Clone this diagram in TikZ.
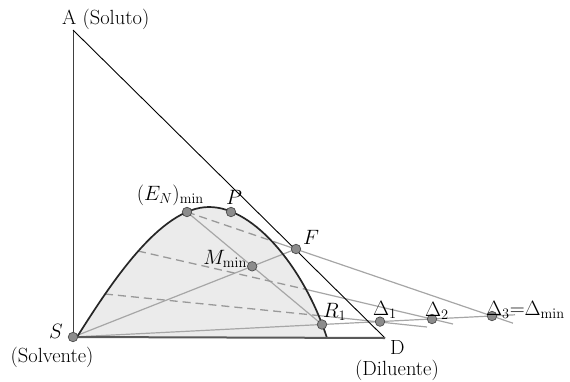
\documentclass[tikz,border=0pt]{standalone}
\usepackage{amsmath}
\usepackage{tikz}
\usetikzlibrary{positioning, calc}

\begin{document}
\begin{tikzpicture}[
  x=1pt, y=-1pt,
  node distance=1pt,
  dot/.style={circle, draw=black!70, fill=black!45, line width=0.7pt,
              inner sep=0pt, minimum size=9.5pt},
  lbl/.style={font=\fontsize{20.5}{24}\selectfont, inner sep=0pt},
  cons/.style={black!35, line width=1.2pt},
  tie/.style={black!40, line width=1.3pt, dash pattern=on 8pt off 5pt},
  side/.style={black!75, line width=0.9pt},
]
  \useasboundingbox (0,0) rectangle (570,381);

  % triangle vertices
  \coordinate (A) at (73,30);
  \coordinate (S) at (73,337);
  \coordinate (D) at (385,338);

  % binodal curve ends and top
  \coordinate (Bl) at (77,337);
  \coordinate (Btop) at (209,207);
  \coordinate (Br) at (327,338);

  % points of the construction
  \coordinate (EN) at (187,212);
  \coordinate (P) at (231,212);
  \coordinate (F) at (296,249);
  \coordinate (R1) at (322,324.5);
  \coordinate (D1) at (380,321.6);
  \coordinate (D2) at (432,319);
  \coordinate (D3) at (492,316);
  \coordinate (Mmin) at (intersection of S--F and EN--R1);

  % tie lines: start on curve, exit from curve, free end
  \coordinate (tieA) at (277,242.7);
  \coordinate (tieAend) at (513,323.2);
  \coordinate (tieB0) at (138,251);
  \coordinate (tieB) at (306,289.4);
  \coordinate (tieBend) at (453,324);
  \coordinate (tieC0) at (105,294);
  \coordinate (tieC) at (317,315.4);
  \coordinate (tieCend) at (427,327);
  \coordinate (Send) at (515,314.8);

  % binodal curve
  \fill[black!8] (Bl) .. controls (110,285) and (160,207) .. (Btop)
    .. controls (255,207) and (305,270) .. (Br) -- cycle;

  % construction lines
  \draw[cons] (S) -- (F);
  \draw[cons] (EN) -- (R1);
  \draw[cons] (S) -- (Send);
  \draw[tie] (EN) -- (tieA);
  \draw[cons] (tieA) -- (tieAend);
  \draw[tie] (tieB0) -- (tieB);
  \draw[cons] (tieB) -- (tieBend);
  \draw[tie] (tieC0) -- (tieC);
  \draw[cons] (tieC) -- (tieCend);

  \draw[black!85, line width=1.7pt] (Bl) .. controls (110,285) and (160,207) .. (Btop)
    .. controls (255,207) and (305,270) .. (Br);

  % triangle
  \draw[side] (A) -- (S);
  \draw[black, line width=0.9pt] (A) -- (D);
  \draw[black!65, line width=2pt] (S) -- (D);

  % points
  \node[dot] (Sdot) at (S) {};
  \node[dot] (ENdot) at (EN) {};
  \node[dot] (Pdot) at (P) {};
  \node[dot] (Fdot) at (F) {};
  \node[dot] (Mdot) at (Mmin) {};
  \node[dot] (R1dot) at (R1) {};
  \node[dot] (D1dot) at (D1) {};
  \node[dot] (D2dot) at (D2) {};
  \node[dot] (D3dot) at (D3) {};

  % labels
  \node[lbl, anchor=base west] (Alab) at ($(A)+(-11,-6)$) {A (Soluto)};
  \node[lbl, anchor=base east] (Slab) at ($(S)+(-10,1)$) {$S$};
  \node[lbl, anchor=base] (Solv) at ($(S)+(-21,25)$) {(Solvente)};
  \node[lbl, anchor=base west] (Dlab) at ($(D)+(5,16)$) {D};
  \node[lbl, anchor=base] (Dilu) at ($(D)+(12,37)$) {(Diluente)};
  \node[lbl, anchor=base east] (ENlab) at ($(ENdot)+(17,-12)$) {$(E_N)_{\mathrm{min}}$};
  \node[lbl, above=2pt of Pdot, xshift=3pt] (Plab) {$P$};
  \node[lbl, anchor=base west] (Flab) at ($(F)+(7,-5)$) {$F$};
  \node[lbl, anchor=base east] (Mlab) at ($(Mmin)+(-5,-2)$) {$M_{\mathrm{min}}$};
  \node[lbl, anchor=base west] (R1lab) at ($(R1)+(1,-7)$) {$R_1$};
  \node[lbl, anchor=base west] (D1lab) at ($(D1)+(-7,-6)$) {$\Delta_1$};
  \node[lbl, anchor=base west] (D2lab) at ($(D2)+(-7,-3)$) {$\Delta_2$};
  \node[lbl, anchor=base west] (D3lab) at ($(D3)+(-6,-1)$) {$\Delta_3{=}\Delta_{\mathrm{min}}$};
\end{tikzpicture}
\end{document}
